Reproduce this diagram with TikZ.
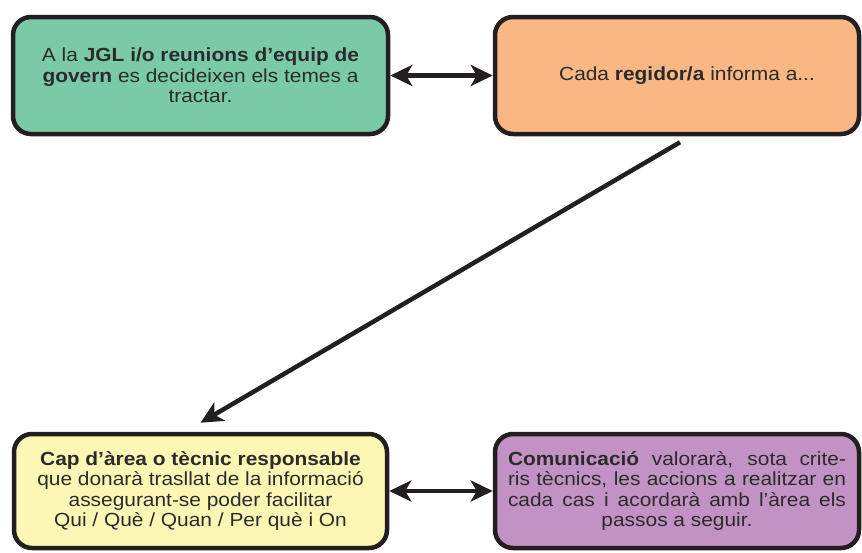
\documentclass[tikz,border=0pt]{standalone}
\usepackage{fontspec}
\setmainfont[FakeStretch=1.1]{Liberation Sans}
\usetikzlibrary{arrows.meta,positioning}
\definecolor{verd}{HTML}{7BCAA7}
\definecolor{taronja}{HTML}{F9B883}
\definecolor{groc}{HTML}{FCF7B4}
\definecolor{lila}{HTML}{C292C4}
\definecolor{linia}{HTML}{231F20}
\definecolor{textgris}{HTML}{2B2B2B}
\tikzset{
  caixa/.style={draw=linia, line width=4.5pt, rounded corners=18pt, align=center,
    inner sep=0pt, text=textgris, font=\fontsize{19}{20.5}\selectfont},
  fletxa/.style={draw=linia, line width=4.5pt,
    -{Stealth[length=22pt,width=21pt,inset=6pt]}},
  dobleta/.style={draw=linia, line width=4.5pt,
    {Stealth[length=22pt,width=21pt,inset=6pt]}-{Stealth[length=22pt,width=21pt,inset=6pt]}}
}
\begin{document}
\begin{tikzpicture}[x=1pt,y=-1pt]
		%%Location
		\useasboundingbox (0,0) rectangle (862,552);
		%%Boxes
		\node[caixa, fill=verd, minimum width=375pt, minimum height=117pt] (jgl) at (200.5,75.5)
			{A la \textbf{JGL i/o reunions d’equip de}\\\textbf{govern} es decideixen els temes a\\tractar.};
		\node[caixa, fill=taronja, minimum width=364pt, minimum height=117pt] (regidor) at (677,75.5)
			{\hspace*{20pt}Cada \textbf{regidor/a} informa a...};
		\node[caixa, fill=groc, minimum width=373pt, minimum height=114pt] (cap) at (200.5,491)
			{\textbf{Cap d’àrea o tècnic responsable}\\que donarà trasllat de la informació\\assegurant-se poder facilitar\\Qui / Què / Quan / Per què i On};
		\node[caixa, fill=lila, minimum width=364pt, minimum height=114pt] (comunicacio) at (677,491)
			{\makebox[338pt][s]{\textbf{Comunicació} valorarà, sota crite-}\\
			 \makebox[338pt][s]{ris tècnics, les accions a realitzar en}\\
			 \makebox[338pt][s]{cada cas i acordarà amb l’àrea els}\\
			 passos a seguir.};
		%%Arrows
		\draw[dobleta] (jgl.east) -- (regidor.west);
		\draw[dobleta] (cap.east) -- (comunicacio.west);
		\draw[fletxa] ([xshift=3pt,yshift=-6pt]regidor.south) -- ([yshift=9pt]cap.north);
\end{tikzpicture}
\end{document}
